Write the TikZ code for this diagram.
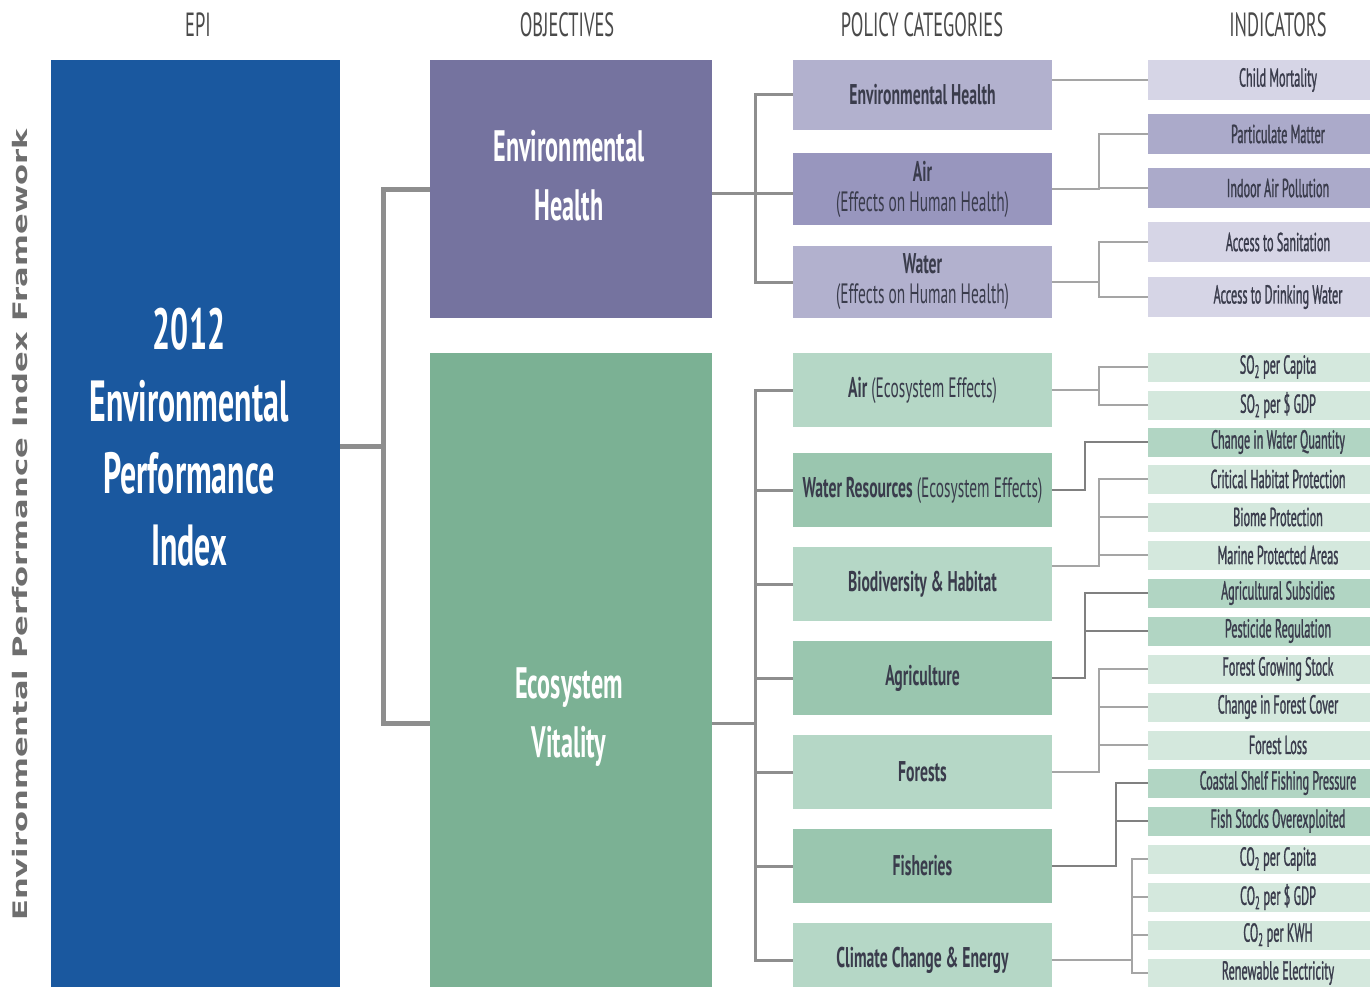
\documentclass[tikz,border=0pt]{standalone}
\usepackage{fontspec}
\setmainfont{PT Sans}
\newfontfamily\condfont{PT Sans}[FakeStretch=0.55]
\newfontfamily\indfont{PT Sans}[FakeStretch=0.47, FakeBold=1]
\newfontfamily\sidefont{DejaVu Sans}[FakeStretch=1.53]

\definecolor{epiblue}{HTML}{1A589F}
\definecolor{objpurple}{HTML}{75739F}
\definecolor{objgreen}{HTML}{7BB194}
\definecolor{catpurpleL}{HTML}{B2B1CE}
\definecolor{catpurpleD}{HTML}{9896BE}
\definecolor{catgreenL}{HTML}{B5D7C6}
\definecolor{catgreenD}{HTML}{9AC6AF}
\definecolor{indpurpleL}{HTML}{D6D5E6}
\definecolor{indpurpleD}{HTML}{ABAACA}
\definecolor{indgreenL}{HTML}{D4E8DD}
\definecolor{indgreenD}{HTML}{B1D5C3}
\definecolor{linkgray}{HTML}{8E8E8E}
\definecolor{headgray}{HTML}{4A4A4A}
\definecolor{sidegray}{HTML}{6E6E6E}
\definecolor{inktext}{HTML}{3A3C4C}

\tikzset{
    box/.style={rectangle, inner sep=0pt, align=center},
    epibox/.style={box, fill=epiblue, minimum width=289pt, minimum height=940pt, anchor=north west},
    objbox/.style={box, minimum width=282pt, anchor=north west},
    bigtext/.style={align=center, text=white, font=\condfont\bfseries\fontsize{58}{72}\selectfont},
    objtext/.style={align=center, text=white, font=\condfont\bfseries\fontsize{44}{59}\selectfont},
    catbox/.style={box, minimum width=259pt, minimum height=74pt, text=inktext,
        font=\condfont\fontsize{28}{30}\selectfont},
    pcat/.style={catbox, fill=catpurpleL, minimum height=72pt},
    pcatdark/.style={catbox, fill=catpurpleD, minimum height=72pt},
    gcat/.style={catbox, fill=catgreenL},
    gcatdark/.style={catbox, fill=catgreenD},
    indbox/.style={box, minimum width=260pt, minimum height=29pt, text=inktext,
        font=\indfont\fontsize{26}{26}\selectfont},
    pind/.style={indbox, fill=indpurpleL, minimum height=40pt},
    pinddark/.style={indbox, fill=indpurpleD, minimum height=40pt},
    gind/.style={indbox, fill=indgreenL},
    ginddark/.style={indbox, fill=indgreenD},
    head/.style={text=headgray, font=\condfont\fontsize{33.5}{34}\selectfont},
    trunk/.style={draw=linkgray, line width=5pt},
    branch/.style={draw=linkgray, line width=3pt},
    twig/.style={draw=linkgray!80, line width=2pt},
    twigdark/.style={draw=linkgray!90!black, line width=2.2pt}
}
\newcommand{\bfc}[1]{{\bfseries\fontsize{28.5}{30}\selectfont #1}}

\begin{document}
\begin{tikzpicture}[x=1pt, y=-1pt]
    \useasboundingbox (0,0) rectangle (1370,987);
    \fill[white] (0,0) rectangle (1370,987);
    \clip (0,0) rectangle (1370,987);

    \node[head] (hEPI) at (198,25) {EPI};
    \node[head] (hObj) at (567,25) {OBJECTIVES};
    \node[head] (hCat) at (922,25) {POLICY CATEGORIES};
    \node[head] (hInd) at (1278,25) {INDICATORS};
    \node[rotate=90, text=sidegray, font=\sidefont\bfseries\fontsize{20}{20}\selectfont] (side) at (20,525)
        {Environmental Performance Index Framework};

    \node[epibox] (epi) at (51,60) {};
    \node[bigtext] (epilbl) at (189,437) {2012\\Environmental\\Performance\\Index};

    \node[objbox, fill=objpurple, minimum height=258pt] (eh) at (430,60) {};
    \node[objtext] (ehlbl) at (569,176) {Environmental\\Health};
    \node[objbox, fill=objgreen, minimum height=634pt] (ev) at (430,353) {};
    \node[objtext] (evlbl) at (569,717) {Ecosystem\\Vitality};

    \node[pcat, minimum height=70pt] (cEH) at (922.5,95) {\bfc{Environmental Health}};
    \node[pcatdark] (cAir) at (922.5,189) {\bfc{Air}\\(Effects on Human Health)};
    \node[pcat] (cWat) at (922.5,282) {\bfc{Water}\\(Effects on Human Health)};
    \node[gcat] (cAirE) at (922.5,390) {\bfc{Air} (Ecosystem Effects)};
    \node[gcatdark] (cWR) at (922.5,490) {\bfc{Water Resources} (Ecosystem Effects)};
    \node[gcat] (cBio) at (922.5,584) {\bfc{Biodiversity \& Habitat}};
    \node[gcatdark] (cAgr) at (922.5,678) {\bfc{Agriculture}};
    \node[gcat] (cFor) at (922.5,772) {\bfc{Forests}};
    \node[gcatdark] (cFis) at (922.5,866) {\bfc{Fisheries}};
    \node[gcat] (cCC) at (922.5,960) {\bfc{Climate Change \& Energy}};

    \node[pind] (iCM) at (1278,80) {Child Mortality};
    \node[pinddark] (iPM) at (1278,134) {Particulate Matter};
    \node[pinddark] (iIAP) at (1278,188) {Indoor Air Pollution};
    \node[pind] (iAS) at (1278,242) {Access to Sanitation};
    \node[pind] (iADW) at (1278,297) {Access to Drinking Water};
    \node[gind] (iSOc) at (1278,367) {SO\textsubscript{2} per Capita};
    \node[gind] (iSOg) at (1278,405) {SO\textsubscript{2} per \$ GDP};
    \node[ginddark] (iCWQ) at (1278,442) {Change in Water Quantity};
    \node[gind] (iCHP) at (1278,479) {Critical Habitat Protection};
    \node[gind] (iBP) at (1278,517) {Biome Protection};
    \node[gind] (iMPA) at (1278,555) {Marine Protected Areas};
    \node[ginddark] (iAgS) at (1278,593) {Agricultural Subsidies};
    \node[ginddark] (iPR) at (1278,631) {Pesticide Regulation};
    \node[gind] (iFGS) at (1278,669) {Forest Growing Stock};
    \node[gind] (iCFC) at (1278,707) {Change in Forest Cover};
    \node[gind] (iFL) at (1278,745) {Forest Loss};
    \node[ginddark] (iCSF) at (1278,783) {Coastal Shelf Fishing Pressure};
    \node[ginddark] (iFSO) at (1278,821) {Fish Stocks Overexploited};
    \node[gind] (iCOc) at (1278,859) {CO\textsubscript{2} per Capita};
    \node[gind] (iCOg) at (1278,897) {CO\textsubscript{2} per \$ GDP};
    \node[gind] (iCOk) at (1278,935) {CO\textsubscript{2} per KWH};
    \node[gind] (iRE) at (1278,973) {Renewable Electricity};

    % index to objectives
    \coordinate (j0) at (383,446);
    \draw[trunk] (epi.east |- j0) -- (j0) |- (eh.west);
    \draw[trunk] (j0) |- ([yshift=-53pt]ev.west);

    % objectives to categories
    \coordinate (j1) at (755,194);
    \draw[branch] (eh.east |- j1) -- (cAir.west |- j1);
    \draw[branch] (cEH.west) -| (j1) |- (cWat.west);
    \coordinate (j2) at (755,723);
    \draw[branch] (ev.east |- j2) -- (j2);
    \draw[branch] (cAirE.west) -| (j2) |- (cCC.west);
    \foreach \c in {cWR,cBio,cAgr,cFor,cFis}
        \draw[branch] (\c.west) -- (\c.west -| j2);

    % categories to indicators
    \draw[twig] (cEH.east |- iCM.west) -- (iCM.west);
    \coordinate (kAir) at ([xshift=47pt]cAir.east);
    \draw[twig] (cAir.east) -- (kAir) |- (iPM.west);
    \draw[twig] (kAir) |- (iIAP.west);
    \coordinate (kWat) at ([xshift=47pt]cWat.east);
    \draw[twig] (cWat.east) -- (kWat) |- (iAS.west);
    \draw[twig] (kWat) |- (iADW.west);

    \coordinate (kAirE) at ([xshift=47pt]cAirE.east);
    \draw[twig] (cAirE.east) -- (kAirE) |- (iSOc.west);
    \draw[twig] (kAirE) |- (iSOg.west);
    \coordinate (kWR) at ([xshift=33pt]cWR.east);
    \draw[twigdark] (cWR.east) -- (kWR) |- (iCWQ.west);
    \coordinate (kBio) at ([xshift=47pt,yshift=18pt]cBio.east);
    \draw[twig] (cBio.east |- kBio) -- (kBio) |- (iCHP.west);
    \draw[twig] (kBio) |- (iBP.west);
    \draw[twig] (kBio) |- (iMPA.west);
    \coordinate (kAgr) at ([xshift=33pt]cAgr.east);
    \draw[twigdark] (cAgr.east) -- (kAgr) |- (iAgS.west);
    \draw[twigdark] (kAgr) |- (iPR.west);
    \coordinate (kFor) at ([xshift=47pt]cFor.east);
    \draw[twig] (cFor.east) -- (kFor) |- (iFGS.west);
    \draw[twig] (kFor) |- (iCFC.west);
    \draw[twig] (kFor) |- (iFL.west);
    \coordinate (kFis) at ([xshift=64pt]cFis.east);
    \draw[twigdark] (cFis.east) -- (kFis) |- (iCSF.west);
    \draw[twigdark] (kFis) |- (iFSO.west);
    \coordinate (kCC) at ([xshift=80pt]cCC.east);
    \draw[twig] (cCC.east) -- (kCC) |- (iCOc.west);
    \draw[twig] (kCC) |- (iCOg.west);
    \draw[twig] (kCC) |- (iCOk.west);
    \draw[twig] (kCC) |- (iRE.west);
\end{tikzpicture}
\end{document}
